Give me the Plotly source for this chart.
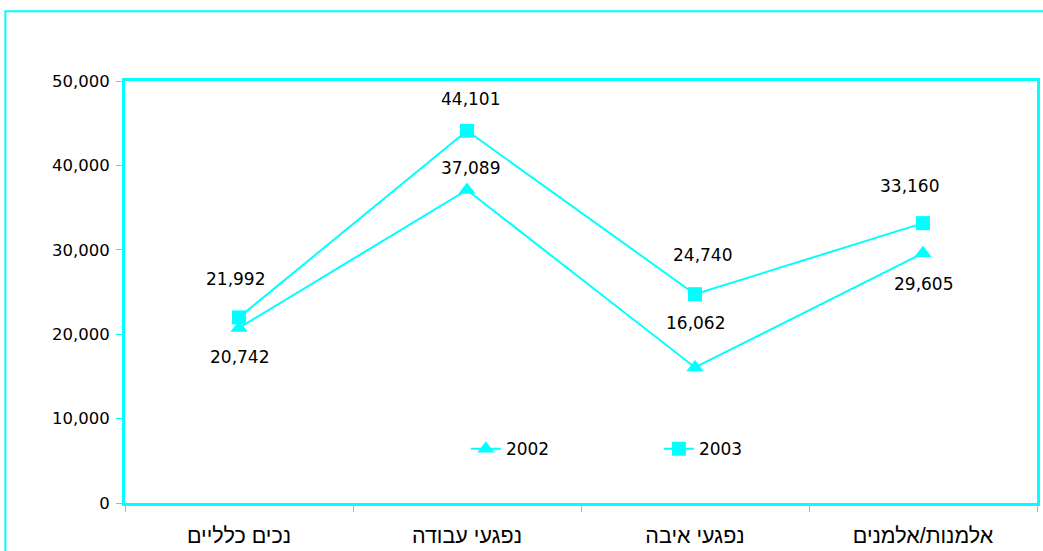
import plotly.graph_objects as go

categories = ["נכים כלליים", "נפגעי עבודה", "נפגעי איבה", "אלמנות/אלמנים"]
values_2002 = [20742, 37089, 16062, 29605]
values_2003 = [21992, 44101, 24740, 33160]
y_ticks = [0, 10000, 20000, 30000, 40000, 50000]

CYAN = "#00FFFF"
FONT = "DejaVu Sans"
HEB_FONT = "Liberation Sans"

W, H = 1043, 551
L, T, R, B = 125, 81, 3, 46
PW, PH = W - L - R, H - T - B

fig = go.Figure()
fig.add_trace(go.Scatter(
    x=categories, y=values_2002, name="2002", mode="lines+markers",
    line=dict(color=CYAN, width=2),
    marker=dict(symbol="triangle-up", size=15, color=CYAN),
))
fig.add_trace(go.Scatter(
    x=categories, y=values_2003, name="2003", mode="lines+markers",
    line=dict(color=CYAN, width=2),
    marker=dict(symbol="square", size=14, color=CYAN),
))

shifts_2002 = [(0, -29), (3, 22), (0, 44), (0, -31)]
shifts_2003 = [(-4, 38), (3, 32), (7, 39), (-14, 37)]
annotations = []
for vals, shifts in ((values_2002, shifts_2002), (values_2003, shifts_2003)):
    for c, v, (dx, dy) in zip(categories, vals, shifts):
        annotations.append(dict(
            x=c, y=v, text=f"{v:,}", showarrow=False,
            xshift=dx, yshift=dy,
            font=dict(family=FONT, size=17, color="black"),
        ))

fig.update_layout(
    width=W, height=H,
    margin=dict(l=L, r=R, t=T, b=B, pad=0),
    paper_bgcolor="white", plot_bgcolor="white",
    font=dict(family=FONT, size=16, color="black"),
    showlegend=True,
    legend=dict(
        orientation="h", x=(467 - L) / PW, y=(H - B - 451) / PH,
        xanchor="left", yanchor="middle",
        entrywidth=148, entrywidthmode="pixels",
        font=dict(family=FONT, size=17, color="black"),
        bgcolor="rgba(0,0,0,0)",
    ),
    annotations=annotations,
    xaxis=dict(
        type="category", range=[-0.5, 3.5],
        showline=True, linecolor=CYAN, linewidth=3, mirror=True,
        ticks="outside", tickson="boundaries", ticklen=6, tickcolor=CYAN,
        showgrid=False, zeroline=False,
        ticklabelstandoff=11,
        tickfont=dict(family=HEB_FONT, size=21.5, color="black"),
    ),
    yaxis=dict(
        range=[0, 50000], tickvals=y_ticks, tickformat=",",
        showline=True, linecolor=CYAN, linewidth=3, mirror=True,
        ticks="outside", ticklen=6, tickcolor=CYAN,
        showgrid=False, zeroline=False,
        ticklabelstandoff=3,
        tickfont=dict(family=FONT, size=16.5, color="black"),
    ),
    shapes=[dict(
        type="rect", xref="paper", yref="paper",
        x0=(5 - L) / PW, x1=1.2, y0=-0.3, y1=(H - B - 11) / PH,
        line=dict(color=CYAN, width=2), layer="below",
    )],
)

fig.write_html(
    "out.html",
    config={"displayModeBar": False},
    post_script="document.body.style.margin='0';",
)
